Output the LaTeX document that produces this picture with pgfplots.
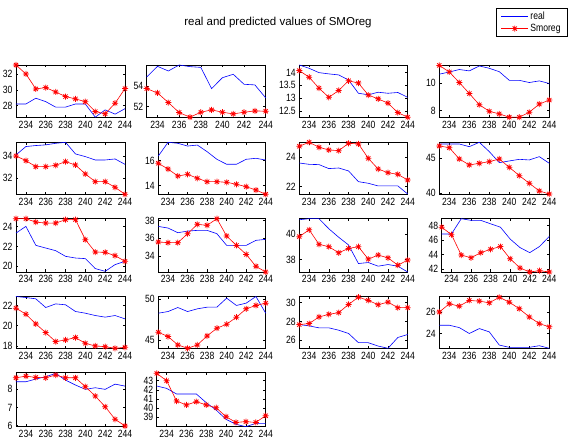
\documentclass[border=0pt]{standalone}
\usepackage{fontspec}
\setmainfont{Liberation Sans}
\newfontfamily\tickfamily[FakeStretch=0.82]{Liberation Sans}
\usepackage{pgfplots}
\pgfplotsset{compat=1.18}
\pgfdeclareplotmark{mstar}{%
 \pgfpathmoveto{\pgfqpoint{-\pgfplotmarksize}{0pt}}\pgfpathlineto{\pgfqpoint{\pgfplotmarksize}{0pt}}%
 \pgfpathmoveto{\pgfqpoint{0pt}{-\pgfplotmarksize}}\pgfpathlineto{\pgfqpoint{0pt}{\pgfplotmarksize}}%
 \pgfpathmoveto{\pgfqpoint{-0.707\pgfplotmarksize}{-0.707\pgfplotmarksize}}\pgfpathlineto{\pgfqpoint{0.707\pgfplotmarksize}{0.707\pgfplotmarksize}}%
 \pgfpathmoveto{\pgfqpoint{-0.707\pgfplotmarksize}{0.707\pgfplotmarksize}}\pgfpathlineto{\pgfqpoint{0.707\pgfplotmarksize}{-0.707\pgfplotmarksize}}%
 \pgfusepathqstroke}
\pgfplotsset{
 panel/.style={scale only axis, anchor=south west, xmin=233, xmax=244,
  xtick={234,236,...,244}, tick align=inside, tick pos=both,
  major tick length=2.5pt, axis line style={line width=0.6pt},
  every tick/.style={black, line width=0.5pt},
  tick label style={font=\tickfamily\fontsize{10.5}{12}\selectfont},
  /pgf/number format/assume math mode=true,
  clip=false, enlargelimits=false},
 realline/.style={blue, line width=0.6pt, no marks},
 predline/.style={red, line width=0.6pt, mark=mstar, mark size=3pt, mark options={line width=0.75pt}},
}
\newcommand\panel[9]{%
\begin{axis}[panel, at={(#1pt,#2pt)}, width=#3pt, height=#4pt, ymin=#5, ymax=#6, ytick={#7}]
\addplot[realline] coordinates {#8};
\addplot[predline] coordinates {#9};
\end{axis}}
\begin{document}
\begin{tikzpicture}
\useasboundingbox (0,0) rectangle (576pt,444pt);
\node[font=\fontsize{11.5}{13}\selectfont] at (278pt,421.3pt) {real and predicted values of SMOreg};
% Row 1
\panel{16}{326.8}{109}{52.2}{26.51}{33.19}{28,30,32}
{(233,28.2) (234,28.2) (235,28.94) (236,28.5) (237,27.8) (238,27.8) (239,28.2) (240,28.2) (241,26.51) (242,27.45) (243,26.9) (244,27.6)}
{(233,33.19) (234,32.04) (235,30.13) (236,30.3) (237,29.74) (238,29.15) (239,28.85) (240,28.5) (241,27.23) (242,26.94) (243,28.3) (244,30.17)}
\panel{146.7}{326.8}{119}{52.2}{50.97}{56.03}{52,54}
{(233,54.87) (234,55.9) (235,55.45) (236,56.03) (237,55.87) (238,55.8) (239,53.74) (240,54.8) (241,55.13) (242,54.16) (243,54.1) (244,52.84)}
{(233,53.74) (234,53.32) (235,52.39) (236,51.42) (237,50.97) (238,51.45) (239,51.68) (240,51.45) (241,51.29) (242,51.45) (243,51.58) (244,51.55)}
\panel{299.3}{326.8}{108.4}{52.2}{12.25}{14.30}{12.5,13,13.5,14}
{(233,14.30) (234,14.17) (235,14.0) (236,13.95) (237,13.91) (238,13.71) (239,13.19) (240,13.13) (241,13.23) (242,13.19) (243,13.22) (244,13.03)}
{(233,14.08) (234,13.82) (235,13.39) (236,13.03) (237,13.30) (238,13.68) (239,13.59) (240,13.12) (241,12.97) (242,12.80) (243,12.43) (244,12.25)}
\begin{axis}[panel, at={(439.3pt,326.8pt)}, width=110pt, height=52.2pt, ymin=7.52, ymax=11.33, ytick={8,10},
 legend style={at={(1.164,2.087)}, anchor=north east, font=\tickfamily\fontsize{10.5}{12}\selectfont,
  draw=black, line width=0.6pt, inner xsep=4.5pt, inner ysep=1.5pt, row sep=-1pt, cells={anchor=west}},
 legend image code/.code={\draw[mark repeat=2,mark phase=2,#1] plot coordinates {(0pt,0pt) (13.3pt,0pt) (26.6pt,0pt)};}]
\addplot[realline] coordinates {(233,10.66) (234,10.82) (235,11.0) (236,10.9) (237,11.26) (238,11.09) (239,10.84) (240,10.21) (241,10.21) (242,10.05) (243,10.17) (244,9.98)};
\addlegendentry{real}
\addplot[predline] coordinates {(233,11.3) (234,10.82) (235,10.05) (236,9.25) (237,8.43) (238,7.95) (239,7.76) (240,7.52) (241,7.52) (242,7.88) (243,8.48) (244,8.77)};
\addlegendentry{Smoreg}
\end{axis}
% Row 2
\panel{16}{249.7}{109}{52}{30.57}{35.22}{32,34}
{(233,34.09) (234,34.84) (235,34.93) (236,34.99) (237,35.13) (238,35.22) (239,34.18) (240,33.94) (241,33.64) (242,33.64) (243,33.73) (244,33.25)}
{(233,34.0) (234,33.58) (235,33.04) (236,33.04) (237,33.16) (238,33.49) (239,33.19) (240,32.39) (241,31.70) (242,31.70) (243,31.19) (244,30.57)}
\panel{158.3}{249.7}{107.4}{52}{13.31}{17.47}{14,16}
{(233,16.37) (234,17.47) (235,17.39) (236,17.17) (237,17.25) (238,16.72) (239,16.11) (240,15.71) (241,15.71) (242,16.11) (243,16.19) (244,16.05)}
{(233,15.79) (234,15.33) (235,14.77) (236,14.91) (237,14.59) (238,14.32) (239,14.32) (240,14.27) (241,14.11) (242,13.92) (243,13.65) (244,13.31)}
\panel{299.3}{249.7}{108.4}{52}{21.48}{25.02}{22,24}
{(233,23.61) (234,23.52) (235,23.5) (236,23.23) (237,23.27) (238,23.07) (239,22.34) (240,22.23) (241,22.05) (242,22.05) (243,22.05) (244,21.5)}
{(233,24.75) (234,25.02) (235,24.68) (236,24.5) (237,24.45) (238,24.95) (239,24.91) (240,23.93) (241,23.2) (242,22.95) (243,22.84) (244,22.45)}
\panel{439.3}{249.7}{110}{52}{39.86}{47.22}{40,45}
{(233,46.98) (234,46.98) (235,46.98) (236,46.6) (237,47.22) (238,45.9) (239,44.34) (240,44.58) (241,44.81) (242,44.72) (243,45.19) (244,44.25)}
{(233,46.7) (234,46.46) (235,44.86) (236,44.01) (237,44.25) (238,44.48) (239,44.86) (240,43.68) (241,42.5) (242,41.42) (243,40.33) (244,39.9)}
% Row 3
\panel{16}{172}{109}{53.3}{19.43}{24.77}{20,22,24}
{(233,23.33) (234,24.0) (235,22.1) (236,21.83) (237,21.57) (238,21.0) (239,20.83) (240,20.77) (241,19.77) (242,19.5) (243,20.17) (244,20.5)}
{(233,24.77) (234,24.77) (235,24.43) (236,24.33) (237,24.33) (238,24.67) (239,24.67) (240,22.67) (241,21.43) (242,21.4) (243,21.07) (244,20.5)}
\panel{158.3}{172}{107.4}{53.3}{32.26}{38.19}{34,36,38}
{(233,37.33) (234,37.15) (235,36.63) (236,36.81) (237,36.89) (238,36.89) (239,36.52) (240,35.22) (241,35.22) (242,35.22) (243,35.78) (244,35.89)}
{(233,35.6) (234,35.52) (235,35.52) (236,36.52) (237,37.56) (238,37.45) (239,38.19) (240,36.26) (241,35.22) (242,34.22) (243,32.89) (244,32.26)}
\panel{299.3}{172}{108.4}{53.3}{37.01}{41.23}{38,40}
{(233,41.15) (234,41.23) (235,41.23) (236,40.43) (237,39.76) (238,39.15) (239,37.68) (240,37.76) (241,37.47) (242,37.6) (243,37.47) (244,37.01)}
{(233,39.81) (234,40.35) (235,39.2) (236,39.01) (237,38.53) (238,38.88) (239,39.01) (240,38.03) (241,38.35) (242,38.13) (243,37.55) (244,37.95)}
\panel{441.7}{172}{107.6}{53.3}{41.63}{48.93}{42,44,46,48}
{(233,46.84) (234,46.84) (235,48.93) (236,48.7) (237,48.7) (238,48.23) (239,47.77) (240,46.14) (241,44.98) (242,44.28) (243,45.12) (244,46.51)}
{(233,47.77) (234,46.74) (235,43.95) (236,43.58) (237,44.28) (238,44.74) (239,45.12) (240,43.44) (241,42.19) (242,41.63) (243,41.81) (244,41.63)}
% Row 4
\panel{16}{95.7}{109}{51.8}{17.77}{22.89}{18,20,22}
{(233,22.89) (234,22.79) (235,22.66) (236,21.8) (237,22.16) (238,22.07) (239,21.41) (240,21.24) (241,21.01) (242,20.85) (243,21.01) (244,20.68)}
{(233,21.74) (234,21.14) (235,20.18) (236,19.32) (237,18.43) (238,18.6) (239,18.83) (240,18.26) (241,18.0) (242,17.93) (243,17.77) (244,17.87)}
\panel{158.3}{95.7}{107.4}{51.8}{43.98}{50.28}{45,50}
{(233,48.25) (234,48.45) (235,48.94) (236,48.45) (237,48.78) (238,48.98) (239,48.98) (240,50.08) (241,49.19) (242,49.47) (243,50.28) (244,48.25)}
{(233,45.93) (234,45.41) (235,44.39) (236,43.98) (237,44.39) (238,45.49) (239,46.42) (240,46.91) (241,47.76) (242,48.78) (243,49.19) (244,49.47)}
\panel{299.3}{95.7}{108.4}{51.8}{25.12}{30.67}{26,28,30}
{(233,27.66) (234,27.52) (235,27.31) (236,27.31) (237,27.06) (238,26.71) (239,25.72) (240,25.72) (241,25.36) (242,25.12) (243,26.28) (244,26.6)}
{(233,27.66) (234,27.77) (235,28.48) (236,28.76) (237,28.94) (238,29.82) (239,30.6) (240,30.25) (241,29.79) (242,30.07) (243,29.47) (244,29.47)}
\panel{439.3}{95.7}{110}{51.8}{22.62}{27.45}{24,26}
{(233,24.77) (234,24.77) (235,24.55) (236,24.0) (237,24.46) (238,24.15) (239,22.92) (240,22.71) (241,22.71) (242,22.71) (243,22.86) (244,22.62)}
{(233,26.0) (234,26.77) (235,26.55) (236,27.08) (237,27.02) (238,26.86) (239,27.38) (240,26.92) (241,26.31) (242,25.54) (243,24.92) (244,24.62)}
% Row 5
\panel{16}{17.3}{109}{54}{5.94}{8.92}{6,7,8}
{(233,8.42) (234,8.42) (235,8.57) (236,8.7) (237,8.88) (238,8.51) (239,8.24) (240,8.0) (241,8.09) (242,8.0) (243,8.29) (244,8.18)}
{(233,8.64) (234,8.73) (235,8.66) (236,8.64) (237,8.79) (238,8.64) (239,8.64) (240,8.15) (241,7.63) (242,7.04) (243,6.35) (244,5.98)}
\panel{156.7}{17.3}{109}{54}{37.98}{43.87}{39,40,41,42,43}
{(233,42.42) (234,42.16) (235,41.55) (236,41.55) (237,41.55) (238,40.6) (239,39.8) (240,38.78) (241,38.24) (242,37.98) (243,38.35) (244,38.35)}
{(233,43.8) (234,43.0) (235,40.78) (236,40.35) (237,40.71) (238,40.35) (239,40.05) (240,39.07) (241,38.45) (242,38.53) (243,38.45) (244,39.18)}
\end{tikzpicture}
\end{document}
